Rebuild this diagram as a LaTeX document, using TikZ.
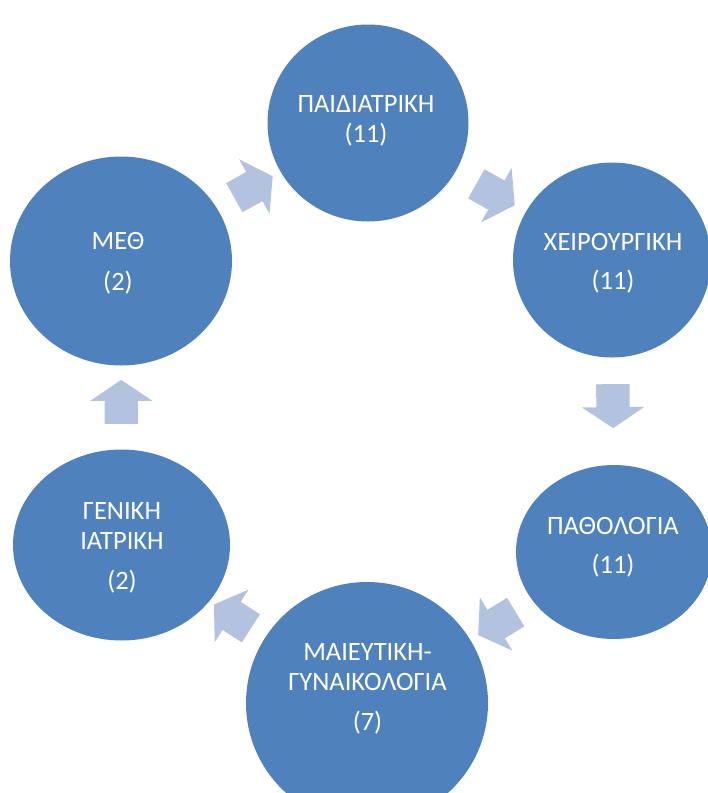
\documentclass[tikz,border=0pt]{standalone}
\usepackage{fontspec}
\setmainfont{Carlito}
\usetikzlibrary{shapes.geometric,shapes.arrows}
\definecolor{circblue}{HTML}{4F81BD}
\definecolor{arrblue}{HTML}{B3C3DF}
\begin{document}
\begin{tikzpicture}[x=1pt,y=-1pt,
  bubble/.style={ellipse, fill=circblue, draw=none, inner sep=0pt},
  lbl/.style={text=white, align=center, font=\fontsize{26.5}{30}\selectfont, inner sep=0pt},
  blockarrow/.style={single arrow, fill=arrblue, draw=none, inner xsep=0pt, inner ysep=16.5pt,
    minimum height=44pt, minimum width=0pt, single arrow head extend=14.5pt,
    single arrow tip angle=112, midway, sloped, allow upside down}]
\useasboundingbox (0,0) rectangle (708,793);
\clip (0,0) rectangle (708,793);
% circles
\node[bubble, minimum width=201pt, minimum height=197pt] (paid) at (368,123) {};
\node[bubble, minimum width=198pt, minimum height=195pt] (xeir) at (612,260) {};
\node[bubble, minimum width=196pt, minimum height=174pt] (path) at (614,552) {};
\node[bubble, minimum width=242pt, minimum height=242pt] (maie) at (367,703) {};
\node[bubble, minimum width=217pt, minimum height=191pt] (geni) at (121.5,545) {};
\node[bubble, minimum width=222pt, minimum height=209pt] (meth) at (121,261) {};
% labels
\node[lbl] (tpaid) at (366,121) {ΠΑΙΔΙΑΤΡΙΚΗ\\(11)};
\node[lbl] (txeir) at (613,263) {ΧΕΙΡΟΥΡΓΙΚΗ\\[9pt](11)};
\node[lbl] (tpath) at (613,547) {ΠΑΘΟΛΟΓΙΑ\\[9pt](11)};
\node[lbl] (tmaie) at (367.5,688.5) {ΜΑΙΕΥΤΙΚΗ-\\ΓΥΝΑΙΚΟΛΟΓΙΑ\\[10pt](7)};
\node[lbl] (tgeni) at (122,547.5) {ΓΕΝΙΚΗ\\ΙΑΤΡΙΚΗ\\[10pt](2)};
\node[lbl] (tmeth) at (118,263) {ΜΕΘ\\[11pt](2)};
% arrows
\path (meth) -- (paid) node[blockarrow] (a1) {};
\path (paid) -- (xeir) node[blockarrow] (a2) {};
\path (xeir) -- (path) node[blockarrow, pos=0.4] (a3) {};
\path (path) -- (maie) node[blockarrow] (a4) {};
\path (maie) -- (geni) node[blockarrow] (a5) {};
\path (geni) -- (meth) node[blockarrow] (a6) {};
\end{tikzpicture}
\end{document}
